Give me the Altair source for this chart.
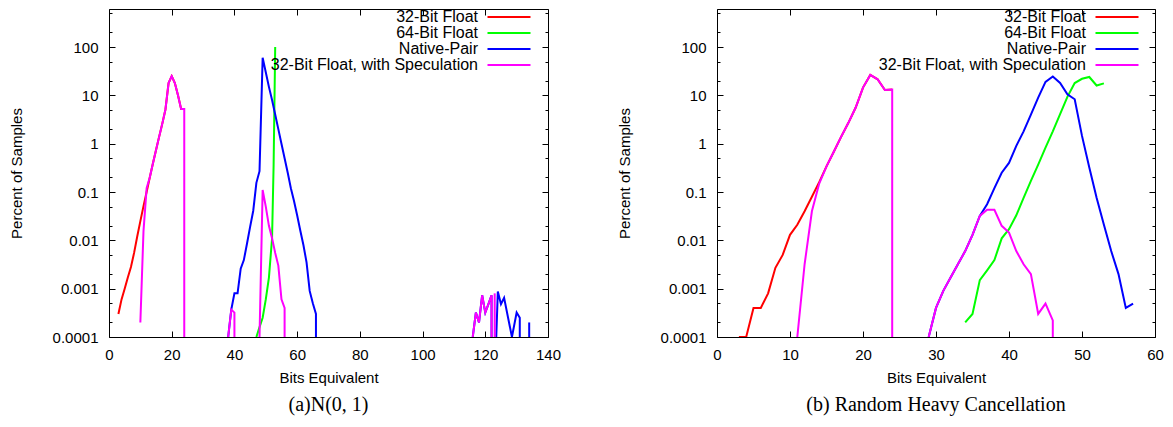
import altair as alt
import pandas as pd

SERIES = ["32-Bit Float", "64-Bit Float", "Native-Pair", "32-Bit Float, with Speculation"]
COLORS = ["#ff0000", "#00ff00", "#0000ff", "#ff00ff"]
WIDTHS = [2, 2, 2, 1]

Y_TICKS = [0.0001, 0.001, 0.01, 0.1, 1, 10, 100]
Y_MINOR = [0.0002, 0.0005, 0.002, 0.005, 0.02, 0.05, 0.2, 0.5, 2, 5, 20, 50, 200, 500]
A_X_TICKS = [0, 20, 40, 60, 80, 100, 120, 140]
B_X_TICKS = [0, 10, 20, 30, 40, 50, 60]
Y_TOP = 612

# ---------------- panel (a) N(0,1) ----------------
A_RED_X = [3, 4, 5, 6, 7, 8, 9, 10, 11, 12, 13, 14, 15, 16, 17, 18, 19, 20, 21, 22, 23, 24]
A_RED_Y = [0.0003, 0.0006, 0.001, 0.0017, 0.0028, 0.0055, 0.012, 0.025, 0.051, 0.1, 0.2,
           0.39, 0.74, 1.4, 2.6, 5.1, 18, 25, 18, 10, 5.2, 5.2]
A_RED_SEG = [0] * 22

A_GREEN_X = [47, 48, 49, 50, 51, 52, 52.5, 53]
A_GREEN_Y = [0.0001, 0.00016, 0.00025, 0.0006, 0.0017, 0.011, 0.37, 100]
A_GREEN_SEG = [0] * 8

A_BLUE_X = [38, 39, 40, 41, 42, 43, 44, 45, 46, 47, 48, 49, 50, 51, 52, 53, 54, 55, 56, 57,
            58, 59, 60, 61, 62, 63, 64, 65, 66, 66,
            116, 117, 118, 119, 120, 121, 122, 122,
            123.5, 124, 125, 126, 128.5, 130, 131, 131,
            134, 134]
A_BLUE_Y = [0.0001, 0.00037, 0.0008, 0.0008, 0.0026, 0.0039, 0.0085, 0.019, 0.041, 0.155,
            0.27, 60, 30, 15, 8, 4, 2, 1, 0.5, 0.25, 0.12, 0.065, 0.033, 0.016, 0.008,
            0.0035, 0.0009, 0.0005, 0.0003, 0.0001,
            0.0001, 0.00032, 0.0002, 0.00073, 0.00032, 0.00048, 0.00073, 0.0001,
            0.0001, 0.00087, 0.00048, 0.00065, 0.0001, 0.00032, 0.00025, 0.0001,
            0.0001, 0.0002]
A_BLUE_SEG = [0] * 30 + [1] * 8 + [2] * 8 + [3] * 2

A_MAG_X = [10, 11, 12, 13, 14, 15, 16, 17, 18, 19, 20, 21, 22, 23, 24, 24,
           38, 39, 40, 40,
           48, 49, 50, 51, 52, 53, 54, 55, 56, 56,
           116, 117, 118, 119, 120, 121, 122, 122,
           123, 123]
A_MAG_Y = [0.0002, 0.0155, 0.12, 0.2, 0.39, 0.74, 1.4, 2.6, 5.1, 18, 25, 18, 10, 5.2, 5.2, 0.0001,
           0.0001, 0.00037, 0.00032, 0.0001,
           0.0001, 0.11, 0.05, 0.02, 0.011, 0.0055, 0.003, 0.0006, 0.0004, 0.0001,
           0.0001, 0.00032, 0.0002, 0.00073, 0.00032, 0.00048, 0.00073, 0.0001,
           0.0001, 0.0008]
A_MAG_SEG = [0] * 16 + [1] * 4 + [2] * 10 + [3] * 8 + [4] * 2

# ---------------- panel (b) Random Heavy Cancellation ----------------
B_RED_X = [3, 4, 5, 6, 7, 8, 9, 10, 11, 12, 13, 14, 15, 16, 17, 18, 19, 20, 21, 22, 23, 24]
B_RED_Y = [0.0001, 0.0001, 0.0004, 0.0004, 0.0008, 0.0027, 0.005, 0.013, 0.021, 0.04, 0.08,
           0.16, 0.34, 0.68, 1.38, 2.7, 5.6, 14.5, 26.5, 21.5, 12.9, 13.2]
B_RED_SEG = [0] * 22

B_GREEN_X = [34, 35, 36, 37, 38, 39, 40, 41, 42, 43, 44, 45, 46, 47, 48, 49, 50, 51, 52, 53]
B_GREEN_Y = [0.0002, 0.0003, 0.0015, 0.0024, 0.0039, 0.011, 0.017, 0.033, 0.076, 0.17,
             0.37, 0.83, 1.8, 4.1, 9.3, 18, 22, 24, 16, 17.7]
B_GREEN_SEG = [0] * 20

B_BLUE_X = [29, 30, 31, 32, 33, 34, 35, 36, 37, 38, 39, 40, 41, 42, 43, 44, 45, 46, 47, 48,
            49, 50, 51, 52, 53, 54, 55, 56, 57]
B_BLUE_Y = [0.0001, 0.0004, 0.0009, 0.0017, 0.0032, 0.006, 0.013, 0.032, 0.056, 0.12, 0.25,
            0.4, 0.9, 1.8, 4, 9, 19, 24.5, 18, 10.5, 8.3, 1.45, 0.32, 0.076, 0.021, 0.006,
            0.002, 0.0004, 0.00049]
B_BLUE_SEG = [0] * 29

B_MAG_X = [11, 12, 13, 14, 15, 16, 17, 18, 19, 20, 21, 22, 23, 24, 24,
           29, 30, 31, 32, 33, 34, 35, 36, 37, 38, 39, 40, 41, 42, 43, 44, 45, 46, 46]
B_MAG_Y = [0.0001, 0.0032, 0.04, 0.15, 0.34, 0.68, 1.38, 2.7, 5.6, 14.5, 26.5, 21.5, 12.9, 13.2, 0.0001,
           0.0001, 0.0004, 0.0009, 0.0017, 0.0032, 0.006, 0.013, 0.032, 0.043, 0.043, 0.02,
           0.0145, 0.006, 0.0032, 0.002, 0.0003, 0.00049, 0.00022, 0.0001]
B_MAG_SEG = [0] * 15 + [1] * 19

W_A, W_B, H = 439, 438, 328
FONT = "Liberation Sans"
MAJOR_TEST = "abs(log(datum.value)/LN10 - round(log(datum.value)/LN10)) < 0.01"


def build(parts):
    rows = []
    for name, xs, ys, segs in parts:
        for i, (x, y, s) in enumerate(zip(xs, ys, segs)):
            rows.append({"series": name, "x": x, "y": y, "seg": f"{name}|{s}", "idx": i})
    return pd.DataFrame(rows)


def tick_axis(orient, offset, values, log=False):
    size = {"condition": {"test": MAJOR_TEST, "value": 6}, "value": 3} if log else 6
    return alt.Axis(orient=orient, offset={"expr": str(offset)}, values=values, labels=False,
                    ticks=True, tickSize=size, tickColor="black", tickWidth=1, domain=False,
                    grid=False, title=None)


def panel(df, xmax, xticks, width, caption):
    xs = alt.Scale(domain=[0, xmax], nice=False, zero=False)
    ys = alt.Scale(type="log", domain=[0.0001, Y_TOP], nice=False)
    yt = Y_TICKS + [v for v in Y_MINOR if v < Y_TOP]
    base = alt.Chart(df)
    lines = base.mark_line(clip=True, strokeJoin="miter").encode(
        x=alt.X("x:Q", scale=xs,
                axis=alt.Axis(title="Bits Equivalent", values=xticks, ticks=False, tickSize=0,
                              domain=False, grid=False, labelPadding=10, titlePadding=8,
                              labelFlush=False,
                              labelFont=FONT, labelFontSize=15, labelColor="black",
                              titleFont=FONT, titleFontSize=15, titleFontWeight="normal",
                              titleColor="black")),
        y=alt.Y("y:Q", scale=ys,
                axis=alt.Axis(title="Percent of Samples", values=Y_TICKS, format="~g",
                              ticks=False, tickSize=0, domain=False, grid=False,
                              labelPadding=11, titlePadding=28, labelFlush=False,
                              labelFont=FONT, labelFontSize=15, labelColor="black",
                              titleFont=FONT, titleFontSize=15, titleFontWeight="normal",
                              titleColor="black")),
        color=alt.Color("series:N", scale=alt.Scale(domain=SERIES, range=COLORS),
                        legend=alt.Legend(title=None, orient="none", legendX=392, legendY=0,
                                          symbolType="M-5,0H5", symbolSize=74,
                                          symbolStrokeWidth=2, labelAlign="right",
                                          labelOffset={"expr": "-39"}, labelLimit=400,
                                          labelFont=FONT, labelFontSize=16, labelColor="black",
                                          rowPadding=0, padding=0)),
        strokeWidth=alt.StrokeWidth("series:N", scale=alt.Scale(domain=SERIES, range=WIDTHS),
                                    legend=None),
        detail="seg:N",
        order="idx:Q",
    )
    t1 = base.mark_point(opacity=0).encode(
        x=alt.X("x:Q", scale=xs, axis=tick_axis("top", -H, xticks)),
        y=alt.Y("y:Q", scale=ys, axis=tick_axis("right", -width, yt, log=True)),
    )
    t2 = base.mark_point(opacity=0).encode(
        x=alt.X("x:Q", scale=xs, axis=tick_axis("bottom", -H, xticks)),
        y=alt.Y("y:Q", scale=ys, axis=tick_axis("left", -width, yt, log=True)),
    )
    return alt.layer(lines, t1, t2).resolve_axis(x="independent", y="independent").properties(
        width=width, height=H,
        title=alt.TitleParams(caption, orient="bottom", font="Liberation Serif", fontSize=20,
                              fontWeight="normal", color="black", offset=10),
    )


df_a = build([
    (SERIES[0], A_RED_X, A_RED_Y, A_RED_SEG),
    (SERIES[1], A_GREEN_X, A_GREEN_Y, A_GREEN_SEG),
    (SERIES[2], A_BLUE_X, A_BLUE_Y, A_BLUE_SEG),
    (SERIES[3], A_MAG_X, A_MAG_Y, A_MAG_SEG),
])
df_b = build([
    (SERIES[0], B_RED_X, B_RED_Y, B_RED_SEG),
    (SERIES[1], B_GREEN_X, B_GREEN_Y, B_GREEN_SEG),
    (SERIES[2], B_BLUE_X, B_BLUE_Y, B_BLUE_SEG),
    (SERIES[3], B_MAG_X, B_MAG_Y, B_MAG_SEG),
])

pa = panel(df_a, 140, A_X_TICKS, W_A, "(a)N(0, 1)")
pb = panel(df_b, 60, B_X_TICKS, W_B, "(b) Random Heavy Cancellation")

chart = alt.hconcat(pa, pb, spacing=169, bounds="flush").resolve_scale(
    color="independent", strokeWidth="independent"
).properties(
    padding={"left": 0, "top": 0, "right": 0, "bottom": 0}
).configure_view(
    stroke="black", strokeWidth=1
)

chart.save("out.html", embed_options={"renderer": "svg", "actions": False})
